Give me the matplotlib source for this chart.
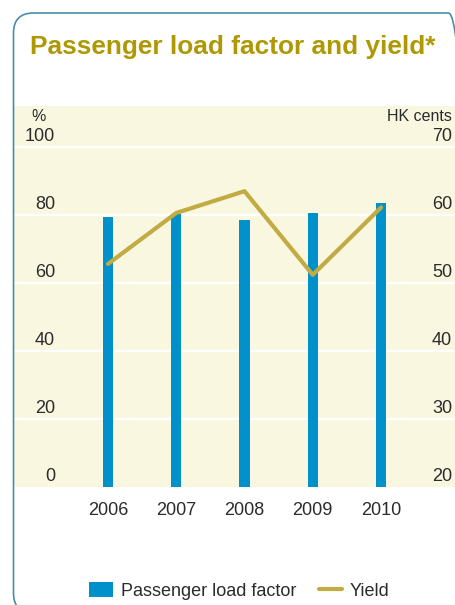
import matplotlib
matplotlib.use("Agg")
import matplotlib.pyplot as plt
from matplotlib.patches import FancyBboxPatch
from matplotlib.transforms import IdentityTransform, blended_transform_factory

years = ["2006", "2007", "2008", "2009", "2010"]
load_factor = [79.5, 80.2, 78.6, 80.5, 83.4]   # %
yield_cents = [52.8, 60.3, 63.5, 51.2, 61.1]   # HK cents
left_ticks = [0, 20, 40, 60, 80, 100]
right_ticks = [20, 30, 40, 50, 60, 70]

W, H = 456, 605
FONT = "Liberation Sans"
panel_col = "#FAF7E1"
bar_col = "#0091CB"
line_col = "#C1AB42"
title_col = "#AE9905"
text_col = "#2b2b2b"

def fx(x):
    return x / W

def fy(y):
    # y measured from the top of the image
    return 1 - y / H

fig = plt.figure(figsize=(W / 100, H / 100), dpi=100)

# rounded frame around the whole card (drawn in pixels)
frame = FancyBboxPatch((13.5, -8), 455, H - 13 + 8,
                       boxstyle="round,pad=0,rounding_size=20",
                       transform=IdentityTransform(), fill=False,
                       edgecolor="#4A8DA8", linewidth=1.2)
fig.patches.append(frame)

fig.text(fx(30), fy(47), "Passenger load factor and yield*", color=title_col,
         fontsize=18.9, fontweight="bold", family=FONT, va="center", ha="left")

# beige panel = axes area
left, right, top, bottom = 14, 456, 106, 487
ax = fig.add_axes([fx(left), fy(bottom), fx(right - left), (bottom - top) / H])
ax.set_facecolor(panel_col)
ax.set_ylim(0, (bottom - top) / 3.4)
x = list(range(len(years)))
ax.set_xlim(-1.377, 5.099)

for v in left_ticks[1:]:
    ax.axhline(v, color="white", lw=1.6, zorder=1)

ax.bar(x, load_factor, width=0.147, color=bar_col, zorder=2,
       label="Passenger load factor")

ax2 = ax.twinx()
ax2.set_ylim(20, 20 + (bottom - top) / 6.8)
ax2.plot(x, yield_cents, color=line_col, lw=3, solid_capstyle="round",
         solid_joinstyle="round", zorder=3, label="Yield")

for a in (ax, ax2):
    for s in a.spines.values():
        s.set_visible(False)
    a.set_yticks([])
ax2.set_xticks([])

ax.set_xticks(x)
ax.set_xticklabels(years, family=FONT, fontsize=13, color=text_col)
ax.tick_params(axis="x", length=0, pad=10.5)

# tick labels sitting just above the gridlines
tl = blended_transform_factory(ax.transAxes, ax.transData)
for v in left_ticks:
    ax.annotate(str(v), xy=((55 - left) / (right - left), v), xycoords=tl,
                xytext=(0, 1.5), textcoords="offset points", ha="right",
                va="bottom", family=FONT, fontsize=13, color=text_col)
tr = blended_transform_factory(ax2.transAxes, ax2.transData)
for v in right_ticks:
    ax2.annotate(str(v), xy=((452 - left) / (right - left), v), xycoords=tr,
                 xytext=(0, 1.5), textcoords="offset points", ha="right",
                 va="bottom", family=FONT, fontsize=13, color=text_col)

fig.text(fx(31), fy(117), "%", family=FONT, fontsize=11.5, color=text_col,
         ha="left", va="center")
fig.text(fx(452), fy(117), "HK cents", family=FONT, fontsize=11.5,
         color=text_col, ha="right", va="center")

h1, l1 = ax.get_legend_handles_labels()
h2, l2 = ax2.get_legend_handles_labels()
fig.legend(h1 + h2, l1 + l2, loc="center", bbox_to_anchor=(fx(239.5), fy(591)),
           ncol=2, frameon=False, prop={"family": FONT, "size": 13},
           handlelength=1.28, handleheight=0.9, handletextpad=0.45,
           columnspacing=1.25, borderpad=0, labelcolor=text_col)

fig.savefig("out.png", dpi=100)
